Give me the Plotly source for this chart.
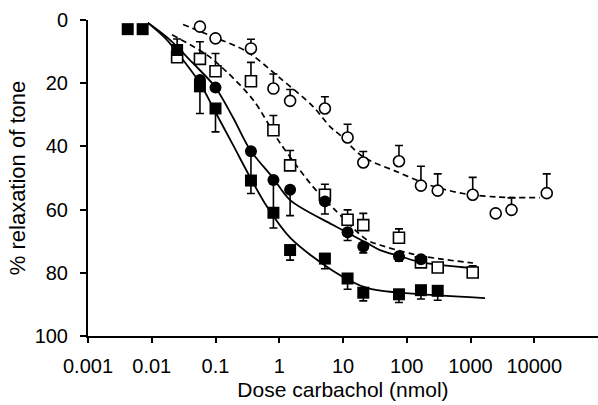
import plotly.graph_objects as go

# ---- data ----
# filled squares
fs_x = [0.0042, 0.0072, 0.025, 0.057, 0.10, 0.36, 0.81, 1.48, 5.2, 11.8, 20.8, 75.5, 167, 306]
fs_y = [2.9, 2.9, 9.5, 21.0, 28.0, 50.8, 61.0, 72.8, 75.5, 81.8, 86.3, 86.8, 85.5, 85.7]
fs_err = [0, 0, 0, 8.6, 7.4, 4.1, 4.8, 3.2, 3.2, 3.4, 2.6, 2.6, 2.8, 3.0]
fs_err_up = [0, 0, 3.5, 0, 0, 0, 0, 0, 0, 0, 0, 0, 0, 0]

# filled circles
fc_x = [0.057, 0.10, 0.36, 0.81, 1.48, 5.2, 11.8, 20.8, 75.5, 167]
fc_y = [19.0, 21.4, 41.5, 50.6, 53.7, 57.4, 67.2, 71.7, 74.8, 75.7]
fc_err = [0, 0, 9.0, 9.5, 8.2, 4.0, 2.6, 2.0, 1.5, 0]

# open squares
os_x = [0.025, 0.057, 0.10, 0.36, 0.81, 1.48, 5.2, 11.8, 20.8, 75.5, 167, 306, 1083]
os_y = [11.8, 12.3, 16.2, 19.4, 34.9, 46.0, 55.3, 63.2, 64.9, 68.9, 76.7, 78.3, 79.9]
os_err = [0, 5.4, 5.6, 6.0, 4.7, 4.7, 3.3, 3.1, 3.7, 2.8, 0, 0, 2.1]

# open circles
oc_x = [0.057, 0.10, 0.36, 0.81, 1.48, 5.2, 11.8, 20.8, 75.5, 167, 306, 1083, 2485, 4400, 15700]
oc_y = [2.1, 5.8, 9.0, 21.7, 25.6, 28.0, 37.2, 45.1, 44.7, 52.4, 54.0, 55.3, 61.2, 60.1, 54.8]
oc_err = [0, 0, 2.9, 4.6, 3.6, 3.7, 4.2, 3.5, 5.0, 6.1, 5.3, 5.5, 0, 3.8, 6.1]

# fitted curves
fs_fit_x = [0.0087, 0.016, 0.0249, 0.057, 0.10, 0.19, 0.35, 0.64, 1.48, 7.0, 23.8, 78, 1690]
fs_fit_y = [0.9, 5.6, 10.2, 20.0, 29.2, 39.7, 49.8, 59.0, 68.9, 79.4, 84.8, 86.3, 88.0]

fc_fit_x = [0.0087, 0.0193, 0.044, 0.098, 0.19, 0.35, 0.80, 1.48, 7.0, 23.8, 38.0, 78, 161, 1095]
fc_fit_y = [0.9, 6.3, 13.6, 21.1, 31.0, 41.1, 50.0, 57.0, 64.9, 70.6, 72.8, 74.7, 76.6, 78.5]

os_fit_x = [0.0208, 0.074, 0.15, 0.39, 1.03, 3.4, 7.0, 23.8, 38.0, 125, 333, 1095]
os_fit_y = [4.7, 11.1, 16.4, 25.3, 38.9, 52.8, 59.5, 69.6, 71.2, 74.1, 75.6, 76.9]

oc_fit_x = [0.031, 0.091, 0.31, 1.03, 3.4, 6.3, 9.0, 20.6, 70, 232, 762, 2600, 12300]
oc_fit_y = [1.4, 5.3, 10.0, 18.4, 27.4, 33.8, 36.4, 43.3, 48.0, 52.3, 54.9, 56.0, 56.2]

x_tickvals = [0.001, 0.01, 0.1, 1, 10, 100, 1000, 10000]
x_ticktext = ["0.001", "0.01", "0.1", "1", "10", "100", "1000", "10000"]
y_tickvals = [0, 20, 40, 60, 80, 100]

BLACK = "#000000"
fig = go.Figure()

# curves
fig.add_trace(go.Scatter(x=fs_fit_x, y=fs_fit_y, mode="lines", line=dict(color=BLACK, width=1.8, shape="spline", smoothing=0.9), hoverinfo="skip"))
fig.add_trace(go.Scatter(x=fc_fit_x, y=fc_fit_y, mode="lines", line=dict(color=BLACK, width=1.8, shape="spline", smoothing=0.9), hoverinfo="skip"))
fig.add_trace(go.Scatter(x=os_fit_x, y=os_fit_y, mode="lines", line=dict(color=BLACK, width=1.7, dash="6px,4px", shape="spline", smoothing=0.9), hoverinfo="skip"))
fig.add_trace(go.Scatter(x=oc_fit_x, y=oc_fit_y, mode="lines", line=dict(color=BLACK, width=1.7, dash="6px,4px", shape="spline", smoothing=0.9), hoverinfo="skip"))

err_style = dict(color=BLACK, thickness=1.6, width=4)

fig.add_trace(go.Scatter(
    x=oc_x, y=oc_y, mode="markers",
    marker=dict(symbol="circle", size=11, color="white", line=dict(color=BLACK, width=1.6)),
    error_y=dict(type="data", symmetric=False, array=[0]*len(oc_err), arrayminus=oc_err, **err_style)))
fig.add_trace(go.Scatter(
    x=os_x, y=os_y, mode="markers",
    marker=dict(symbol="square", size=11, color="white", line=dict(color=BLACK, width=1.6)),
    error_y=dict(type="data", symmetric=False, array=[0]*len(os_err), arrayminus=os_err, **err_style)))
fig.add_trace(go.Scatter(
    x=fc_x, y=fc_y, mode="markers",
    marker=dict(symbol="circle", size=12, color=BLACK),
    error_y=dict(type="data", symmetric=False, array=fc_err, arrayminus=[0]*len(fc_err), **err_style)))
fig.add_trace(go.Scatter(
    x=fs_x, y=fs_y, mode="markers",
    marker=dict(symbol="square", size=12, color=BLACK),
    error_y=dict(type="data", symmetric=False, array=fs_err, arrayminus=fs_err_up, **err_style)))

fig.update_layout(
    width=598, height=405,
    margin=dict(l=88, r=0, t=20, b=69, pad=0),
    paper_bgcolor="white", plot_bgcolor="white",
    showlegend=False,
    font=dict(family="Liberation Sans, Arial, sans-serif", color=BLACK, size=20),
)
fig.update_xaxes(
    type="log", range=[-3, 5],
    tickvals=x_tickvals, ticktext=x_ticktext,
    ticks="outside", ticklen=5, tickwidth=1.5, tickcolor=BLACK,
    showline=True, linecolor=BLACK, linewidth=2,
    showgrid=False, zeroline=False,
    tickfont=dict(size=20), ticklabelstandoff=6,
    title=dict(text="Dose carbachol (nmol)", font=dict(size=21), standoff=6),
)
fig.update_yaxes(
    range=[100, 0], tickvals=y_tickvals,
    ticks="outside", ticklen=6, tickwidth=1.5, tickcolor=BLACK,
    showline=True, linecolor=BLACK, linewidth=2,
    showgrid=False, zeroline=False,
    tickfont=dict(size=20), ticklabelstandoff=8,
    title=dict(text="% relaxation of tone", font=dict(size=22), standoff=3),
)

fig.write_html("out.html")
